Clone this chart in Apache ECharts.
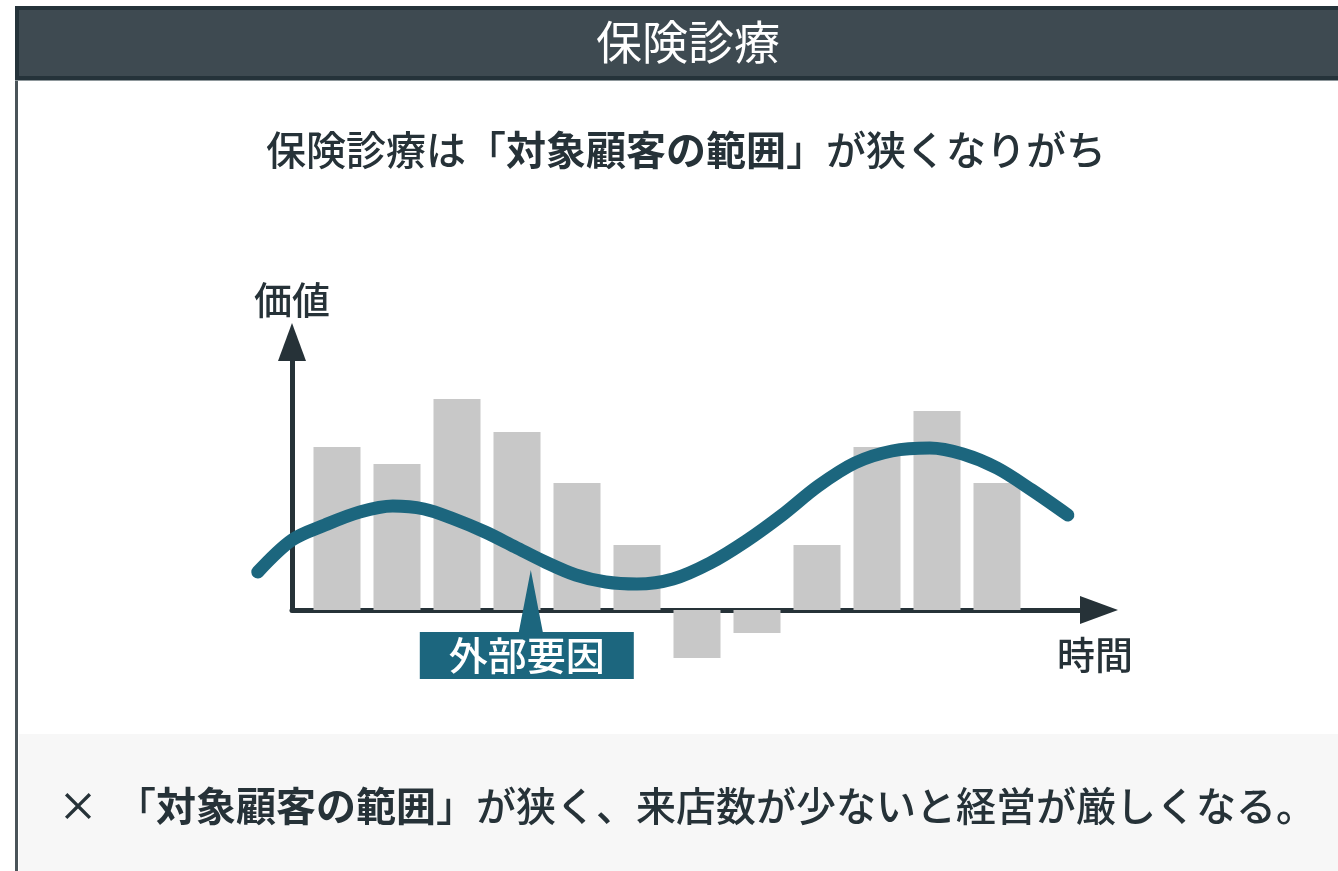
<!DOCTYPE html>
<html lang="ja">
<head>
<meta charset="utf-8">
<title>保険診療</title>
<script src="https://cdn.jsdelivr.net/npm/echarts@6/dist/echarts.min.js"></script>
<style>
  html, body { margin: 0; padding: 0; background: #ffffff; }
  #chart { width: 1338px; height: 871px; }
</style>
</head>
<body>
<div id="chart"></div>
<script>
// Period index of each bar along the time axis
const periods = [1, 2, 3, 4, 5, 6, 7, 8, 9, 10, 11, 12];
// Value of each period (negative values fall below the time axis)
const barValues = [16.3, 14.6, 21.1, 17.8, 12.7, 6.5, -4.8, -2.3, 6.5, 16.3, 19.9, 12.7];

// External-factor wave: positions on the time axis and the matching values
const waveX = [-0.32, 0.25, 0.80, 1.38, 1.93, 2.45, 2.95, 3.47, 3.97, 4.47, 4.98, 5.48, 6.00,
               6.60, 7.22, 7.82, 8.42, 9.02, 9.63, 10.25, 10.88, 11.43, 12.00, 12.58, 13.18];
const waveY = [3.8, 7.0, 8.5, 9.8, 10.4, 10.1, 9.1, 7.8, 6.3, 4.8, 3.5, 2.8, 2.6,
               3.1, 4.7, 6.9, 9.5, 12.4, 14.7, 15.9, 16.2, 15.6, 14.2, 12.0, 9.5];

// Callout pointing at the wave
const calloutPoint = [4.23, 4.0];
const calloutText = '外部要因';

// Texts
const headerText = '保険診療';
const leadText = '保険診療は「{b|対象顧客の範囲}」が狭くなりがち';
const noteText = '×  「{b|対象顧客の範囲}」が狭く、来店数が少ないと経営が厳しくなる。';
const valueAxisName = '価値';
const timeAxisName = '時間';

const FONT = '"Noto Sans CJK JP", "Noto Sans", sans-serif';
const INK = '#263238';
const TEAL = '#1c667e';
const BAR = '#c8c8c8';

const barData = periods.map((p, i) => [p, barValues[i]]);
const waveData = waveX.map((x, i) => [x, waveY[i]]);

const chart = echarts.init(document.getElementById('chart'), null, { renderer: 'canvas' });

const hiddenAxis = {
  show: false, axisLine: { show: false }, axisTick: { show: false },
  axisLabel: { show: false }, splitLine: { show: false }
};

chart.setOption({
  backgroundColor: '#ffffff',
  animation: false,
  graphic: [
    // page frame on the left
    { type: 'rect', z: -10, shape: { x: 15, y: 80, width: 3, height: 800 },
      style: { fill: '#4a5459' } },
    // header band
    { type: 'rect', z: -10, shape: { x: 17, y: 8, width: 1340, height: 70 },
      style: { fill: '#3e4a51', stroke: '#25333a', lineWidth: 4 } },
    { type: 'rect', z: -10, shape: { x: 15, y: 80, width: 1330, height: 1 },
      style: { fill: '#8e979b' } },
    // note panel
    { type: 'rect', z: -10, shape: { x: 19, y: 734, width: 1330, height: 140 },
      style: { fill: '#f7f7f7' } }
  ],
  title: [
    {
      text: headerText, left: 688, top: 12, textAlign: 'center', padding: 0,
      textStyle: { color: '#ffffff', fontSize: 46, fontWeight: 'normal',
                   fontFamily: FONT, lineHeight: 60 }
    },
    {
      text: leadText, left: 686, top: 125, textAlign: 'center', padding: 0,
      textStyle: {
        color: INK, fontSize: 40, fontWeight: 500, fontFamily: FONT, lineHeight: 50,
        rich: { b: { color: INK, fontSize: 40, fontWeight: 'bold', fontFamily: FONT, lineHeight: 50 } }
      }
    },
    {
      text: noteText, left: 58, top: 781, padding: 0,
      textStyle: {
        color: INK, fontSize: 40, fontWeight: 500, fontFamily: FONT, lineHeight: 50,
        rich: { b: { color: INK, fontSize: 40, fontWeight: 'bold', fontFamily: FONT, lineHeight: 50 } }
      }
    }
  ],
  grid: [
    { left: 292, top: 342, width: 807, height: 268, containLabel: false },
    // same scale, wider span so the wave can start left of the value axis
    { left: 247, top: 342, width: 852, height: 268, containLabel: false }
  ],
  xAxis: [
    {
      type: 'value', gridIndex: 0, min: 0.25, max: 13.7,
      name: timeAxisName, nameLocation: 'end', nameGap: -4,
      nameTextStyle: { color: INK, fontSize: 38, fontWeight: 500, fontFamily: FONT, align: 'center',
                       verticalAlign: 'top', padding: [26, 0, 0, 0] },
      axisLine: { show: true, onZero: true, symbol: ['none', 'triangle'], symbolSize: [28, 38],
                  lineStyle: { color: INK, width: 5, cap: 'round' } },
      axisTick: { show: false }, axisLabel: { show: false }, splitLine: { show: false }
    },
    Object.assign({ type: 'value', gridIndex: 1, min: -0.5, max: 13.7 }, hiddenAxis)
  ],
  yAxis: [
    {
      type: 'value', gridIndex: 0, min: 0, max: 26.8,
      name: valueAxisName, nameLocation: 'end', nameGap: 23,
      nameTextStyle: { color: INK, fontSize: 38, fontWeight: 500, fontFamily: FONT, align: 'center',
                       verticalAlign: 'bottom' },
      axisLine: { show: true, symbol: ['none', 'triangle'], symbolSize: [28, 38],
                  lineStyle: { color: INK, width: 5, cap: 'round' } },
      axisTick: { show: false }, axisLabel: { show: false }, splitLine: { show: false }
    },
    Object.assign({ type: 'value', gridIndex: 1, min: 0, max: 26.8 }, hiddenAxis)
  ],
  series: [
    {
      type: 'bar', xAxisIndex: 0, yAxisIndex: 0, data: barData, barWidth: 47,
      clip: false, silent: true, z: 1,
      itemStyle: { color: BAR }
    },
    {
      type: 'line', xAxisIndex: 1, yAxisIndex: 1, data: waveData, smooth: 0.33,
      clip: false, silent: true, z: 3,
      showSymbol: false, symbol: 'none',
      lineStyle: { color: TEAL, width: 13, cap: 'round', join: 'round' }
    },
    {
      type: 'scatter', xAxisIndex: 0, yAxisIndex: 0, data: [calloutPoint],
      silent: true, z: 5, clip: false,
      symbol: 'path://M111,0 L123,62 L214,62 L214,109 L0,109 L0,62 L99,62 Z',
      symbolSize: [214, 109], symbolOffset: [-4, 54.5],
      itemStyle: { color: TEAL, opacity: 1 },
      label: {
        show: true, position: 'inside', offset: [0, 31], formatter: calloutText,
        color: '#ffffff', fontSize: 39, fontWeight: 500, fontFamily: FONT
      }
    }
  ]
});
</script>
</body>
</html>
